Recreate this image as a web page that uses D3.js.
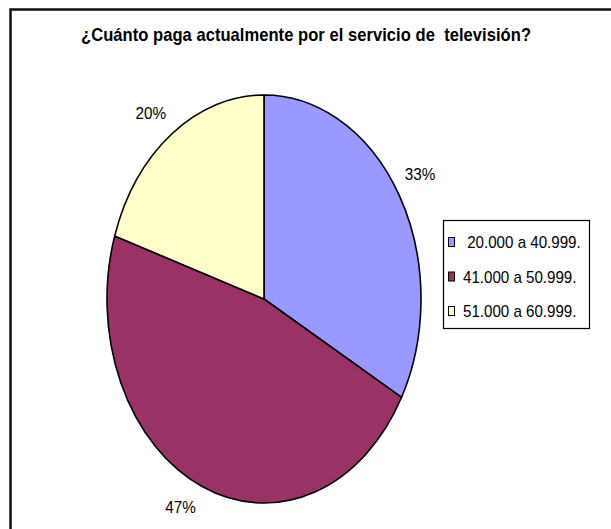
<!DOCTYPE html>
<html>
<head>
<meta charset="utf-8">
<script src="https://cdn.jsdelivr.net/npm/d3@7/dist/d3.min.js"></script>
<style>
  html, body { margin: 0; padding: 0; background: #fff; overflow: hidden; }
  svg { display: block; }
  text { font-family: "Liberation Sans", Arial, sans-serif; fill: #000; white-space: pre; }
</style>
</head>
<body>
<svg id="chart" width="611" height="529"></svg>
<script>
// Chart content
const title = "¿Cuánto paga actualmente por el servicio de  televisión?";
const categories = [" 20.000 a 40.999.", "41.000 a 50.999.", "51.000 a 60.999."];
const shares = [33, 47, 20];
const palette = ["#9999FF", "#993366", "#FFFFCC"];

// Layout
const W = 611, H = 529;
const cx = 264, cy = 299;        // pie centre
const ry = 204, rx = 157;        // pie is drawn as an ellipse
const sx = rx / ry;              // horizontal squeeze of the pie
const textSX = 0.9;              // condensed text
const labelGap = 21;             // label box offset from the rim

const svg = d3.select("#chart");

// Frame (extends past the right and bottom edges)
svg.append("rect")
  .attr("x", 10.5).attr("y", 9.5)
  .attr("width", W + 20).attr("height", H + 20)
  .attr("fill", "#fff")
  .attr("stroke", "#111").attr("stroke-width", 2.5);

// Title
svg.append("g")
  .attr("transform", `translate(306,41) scale(0.92,1)`)
  .append("text")
  .attr("text-anchor", "middle")
  .attr("font-size", 18)
  .attr("font-weight", "bold")
  .attr("textLength", 450 / 0.92)
  .attr("lengthAdjust", "spacing")
  .text(title);

const color = d3.scaleOrdinal().domain(categories).range(palette);

const pie = d3.pie().sort(null).value(d => d.value);
const arcs = pie(categories.map((c, i) => ({ name: c, value: shares[i] })));

const arc = d3.arc().innerRadius(0).outerRadius(ry);
const rimArc = d3.arc().innerRadius(ry).outerRadius(ry);

// Slices
const pieG = svg.append("g")
  .attr("transform", `translate(${cx},${cy}) scale(${sx},1)`);

pieG.selectAll("path")
  .data(arcs)
  .join("path")
  .attr("d", arc)
  .attr("fill", d => color(d.data.name))
  .attr("stroke", "#000")
  .attr("stroke-width", 1.6)
  .attr("stroke-linejoin", "round")
  .attr("vector-effect", "non-scaling-stroke");

// Percentage labels just outside the rim, at each slice's middle angle
svg.append("g").selectAll("g")
  .data(arcs)
  .join("g")
  .attr("transform", d => {
    const [x, y] = rimArc.centroid(d);
    const lx = cx + x * sx + Math.sign(x) * labelGap;
    const ly = cy + y + Math.sign(y) * labelGap;
    return `translate(${lx},${ly}) scale(${textSX},1)`;
  })
  .append("text")
  .attr("text-anchor", "middle")
  .attr("dy", "0.36em")
  .attr("font-size", 17)
  .text(d => `${d.data.value}%`);

// Legend
const legend = svg.append("g");
legend.append("rect")
  .attr("x", 443.5).attr("y", 220.5)
  .attr("width", 146).attr("height", 108)
  .attr("fill", "#fff")
  .attr("stroke", "#000").attr("stroke-width", 1.2);

const rowY = d3.scalePoint().domain(categories).range([242, 311]);

const rows = legend.selectAll("g.row")
  .data(categories)
  .join("g")
  .attr("class", "row")
  .attr("transform", d => `translate(0,${rowY(d)})`);

rows.append("rect")
  .attr("x", 448.5).attr("y", -4.5)
  .attr("width", 6).attr("height", 9)
  .attr("fill", d => color(d))
  .attr("stroke", "#000").attr("stroke-width", 1);

rows.append("g")
  .attr("transform", `translate(463,0) scale(0.89,1)`)
  .append("text")
  .attr("dy", "0.36em")
  .attr("font-size", 17)
  .text(d => d);
</script>
</body>
</html>
